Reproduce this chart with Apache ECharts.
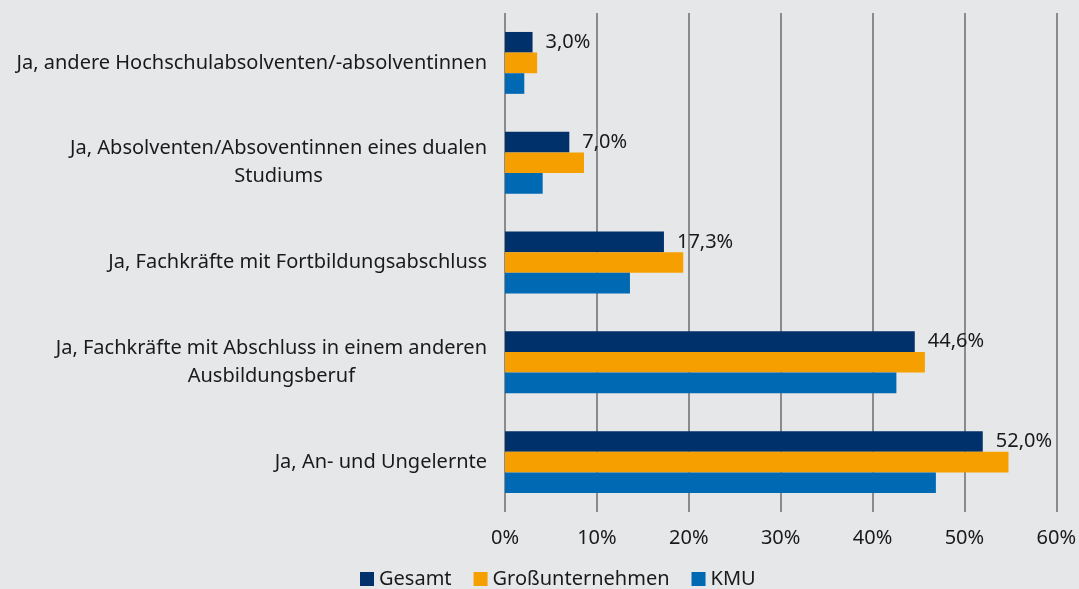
<!DOCTYPE html>
<html><head><meta charset="utf-8">
<script src="https://cdn.jsdelivr.net/npm/echarts@6/dist/echarts.min.js"></script>
<style>html,body{margin:0;padding:0;background:#e6e7e9;}#c{width:1079px;height:589px;}</style>
</head><body><div id="c"></div>
<script>
const categories = [
  "Ja, andere Hochschulabsolventen/-absolventinnen",
  "Ja, Absolventen/Absoventinnen eines dualen\nStudiums",
  "Ja, Fachkräfte mit Fortbildungsabschluss",
  "Ja, Fachkräfte mit Abschluss in einem anderen\nAusbildungsberuf",
  "Ja, An- und Ungelernte"
];
const gesamt = [3.0, 7.0, 17.3, 44.6, 52.0];
const gross = [3.5, 8.6, 19.4, 45.7, 54.8];
const kmu = [2.1, 4.1, 13.6, 42.6, 46.9];
const xTicks = [0, 10, 20, 30, 40, 50, 60];

const font = '"Noto Sans", sans-serif';
const fs = 20;
const chart = echarts.init(document.getElementById('c'));
chart.setOption({
  backgroundColor: '#e6e7e9',
  animation: false,
  textStyle: { fontFamily: font },
  grid: { left: 505, right: 21, top: 13, bottom: 77, containLabel: false },
  legend: {
    top: 564, left: 355,
    icon: 'rect', itemWidth: 14, itemHeight: 14, itemGap: 22, itemStyle: { borderWidth: 0 },
    textStyle: { fontSize: fs, color: '#1a1a1a', fontFamily: font },
    data: ['Gesamt', 'Großunternehmen', 'KMU']
  },
  xAxis: {
    type: 'value', min: 0, max: 60, interval: 10,
    axisLine: { show: false },
    axisTick: { show: true, length: 0, lineStyle: { color: '#6d6d6d', width: 1.5 } },
    splitLine: { show: true, lineStyle: { color: '#6d6d6d', width: 1.5 } },
    axisLabel: { fontSize: fs, color: '#1a1a1a', margin: 16, fontFamily: font,
      formatter: v => xTicks.includes(v) ? v + '%' : '' }
  },
  yAxis: {
    type: 'category', inverse: true, data: categories,
    axisLine: { show: false }, axisTick: { show: false },
    axisLabel: {
      fontSize: fs, color: '#1a1a1a', margin: 18, lineHeight: 28, fontFamily: font,
      formatter: v => v.split('\n').map(s => '{c|' + s + '}').join('\n'),
      rich: { c: { align: 'center', fontSize: fs, lineHeight: 28, color: '#1a1a1a', fontFamily: font } }
    }
  },
  series: [
    { name: 'Gesamt', type: 'bar', data: gesamt, itemStyle: { color: '#00316a' },
      barGap: '0%', barCategoryGap: '38%',
      label: { show: true, position: 'right', distance: 13, fontSize: fs, color: '#1a1a1a', fontFamily: font,
        formatter: p => p.value.toFixed(1).replace('.', ',') + '%' } },
    { name: 'Großunternehmen', type: 'bar', data: gross, itemStyle: { color: '#f59f00' } },
    { name: 'KMU', type: 'bar', data: kmu, itemStyle: { color: '#0069b4' } }
  ]
});
</script></body></html>
